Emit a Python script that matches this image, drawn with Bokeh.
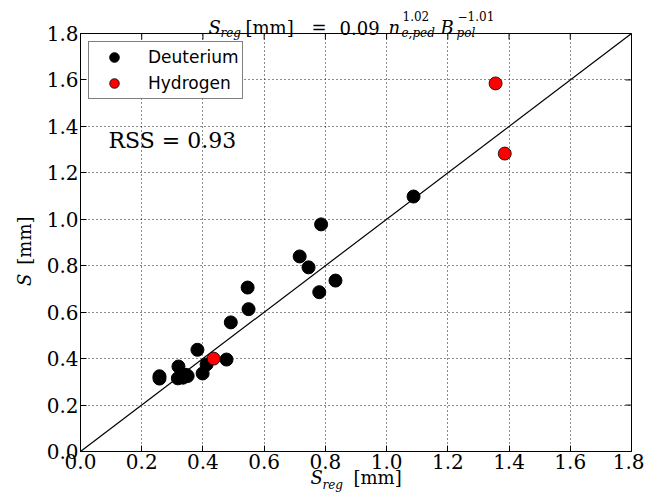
from bokeh.plotting import figure
from bokeh.models import Range1d, FixedTicker, PrintfTickFormatter, Label, Column, Row
from bokeh.embed import file_html
from bokeh.resources import INLINE
import math

# ---------------- data ----------------
deut_sreg = [1.088, 0.786, 0.716, 0.745, 0.780, 0.833, 0.546, 0.549, 0.491, 0.477,
             0.382, 0.412, 0.399, 0.258, 0.258, 0.320, 0.318, 0.335, 0.350, 0.345]
deut_s = [1.098, 0.978, 0.840, 0.793, 0.686, 0.736, 0.706, 0.613, 0.556, 0.396,
          0.438, 0.375, 0.336, 0.324, 0.314, 0.366, 0.315, 0.318, 0.325, 0.330]
hyd_sreg = [0.435, 1.356, 1.386]
hyd_s = [0.400, 1.585, 1.283]
ref_line = [0.0, 1.8]
tick_values = [0.0, 0.2, 0.4, 0.6, 0.8, 1.0, 1.2, 1.4, 1.6, 1.8]
rss_text = "RSS = 0.93"

W, H = 644, 493
BL, BR, BT, BB = 80, 13, 33, 42
X0, X1 = 0.0, 1.8
Y0, Y1 = 0.0, 1.8

# ---------------- main figure ----------------
p = figure(width=W, height=H, x_range=Range1d(X0, X1), y_range=Range1d(Y0, Y1),
           output_backend="svg", toolbar_location=None,
           min_border_left=BL, min_border_right=BR, min_border_top=BT, min_border_bottom=BB)
p.background_fill_color = "white"
p.border_fill_color = "white"
p.outline_line_color = "black"
p.outline_line_width = 1

for ax in list(p.xaxis) + list(p.yaxis):
    ax.ticker = FixedTicker(ticks=tick_values)
    ax.formatter = PrintfTickFormatter(format="%.1f")
    ax.major_tick_in = 6
    ax.major_tick_out = 0
    ax.minor_tick_in = 0
    ax.minor_tick_out = 0
    ax.axis_line_color = "black"
    ax.major_tick_line_color = "black"
    ax.major_label_text_font = "DejaVu Serif"
    ax.major_label_text_font_size = "20px"
    ax.major_label_text_color = "black"
    ax.major_label_standoff = 2

p.grid.grid_line_color = "black"
p.grid.grid_line_dash = "1 3"
p.grid.grid_line_width = 1
p.grid.grid_line_alpha = 0.9
for g in p.grid:
    g.ticker = FixedTicker(ticks=tick_values)

# inward ticks on the top and right edges (matplotlib style box)
frame_w = W - BL - BR
frame_h = H - BT - BB
tick_dx = 6 * (X1 - X0) / frame_w
tick_dy = 6 * (Y1 - Y0) / frame_h
p.segment(x0=tick_values, y0=[Y1] * len(tick_values),
          x1=tick_values, y1=[Y1 - tick_dy] * len(tick_values), line_color="black")
p.segment(x0=[X1] * len(tick_values), y0=tick_values,
          x1=[X1 - tick_dx] * len(tick_values), y1=tick_values, line_color="black")

# ---------------- glyphs ----------------
p.line(ref_line, ref_line, line_color="black", line_width=1.2)
p.scatter(deut_sreg, deut_s, size=13, fill_color="black", line_color="black",
          legend_label="Deuterium")
p.scatter(hyd_sreg, hyd_s, size=13, fill_color="red", line_color="black", line_width=0.8,
          legend_label="Hydrogen")

leg = p.legend[0]
leg.location = (8, 352)
leg.border_line_color = "black"
leg.border_line_width = 1
leg.background_fill_color = "white"
leg.background_fill_alpha = 1
leg.label_text_font = "DejaVu Sans"
leg.label_text_font_size = "17px"
leg.label_text_color = "black"
leg.padding = 3
leg.spacing = 2
leg.glyph_width = 44
leg.glyph_height = 24
leg.label_height = 24
leg.label_standoff = 12
leg.margin = 0


# ---------------- text overlays (pixel coordinates) ----------------
def overlay(x_range, y_range, margin):
    f = figure(width=W, height=H, x_range=x_range, y_range=y_range,
               output_backend="svg", toolbar_location=None,
               x_axis_type=None, y_axis_type=None,
               min_border_left=0, min_border_right=0, min_border_top=0, min_border_bottom=0,
               margin=margin)
    f.outline_line_color = None
    f.background_fill_alpha = 0
    f.border_fill_alpha = 0
    f.grid.visible = False
    return f


# column overlay: its frame is aligned horizontally with the main frame
ov = overlay(Range1d(BL, W - BR), Range1d(H, 0), (-H, 0, 0, 0))
# row overlay: its frame is aligned vertically with the main frame
yl = overlay(Range1d(0, W), Range1d(H - BB, BT), (0, 0, 0, -W))


def lab(fig, text, px, py, size, italic=False, angle=0.0, font="DejaVu Serif"):
    fig.add_layout(Label(x=px, y=py, text=text, text_font=font,
                         text_font_size=f"{size}px",
                         text_font_style="italic" if italic else "normal",
                         text_baseline="alphabetic", text_align="left",
                         angle=angle, text_color="black"))


# title: S_reg [mm] = 0.09 n_{e,ped}^{1.02} B_{pol}^{-1.01}
lab(ov, "S", 208, 27, 18, italic=True)
lab(ov, "reg", 220, 32, 12, italic=True)
lab(ov, "[mm]", 245, 27, 18)
lab(ov, "=", 311, 27, 18)
lab(ov, "0.09", 339, 27, 18)
lab(ov, "n", 388, 27, 18, italic=True)
lab(ov, "1.02", 402, 15, 12)
lab(ov, "e,ped", 401, 32, 12, italic=True)
lab(ov, "B", 440, 27, 18, italic=True)
lab(ov, "\u22121.01", 457, 15, 12)
lab(ov, "pol", 456, 32, 12, italic=True)

# x label
lab(ov, "S", 310, 477, 18, italic=True)
lab(ov, "reg", 322, 484, 12, italic=True)
lab(ov, "[mm]", 353, 477, 18)

# RSS annotation
lab(ov, rss_text, 108, 140, 22)

# y label (rotated)
lab(yl, "S", 24, 275, 18, italic=True, angle=math.pi / 2)
lab(yl, "[mm]", 24, 257, 18, angle=math.pi / 2)

layout = Row(children=[Column(children=[p, ov], spacing=0), yl], spacing=0)

open("out.html", "w").write(file_html(layout, INLINE))
